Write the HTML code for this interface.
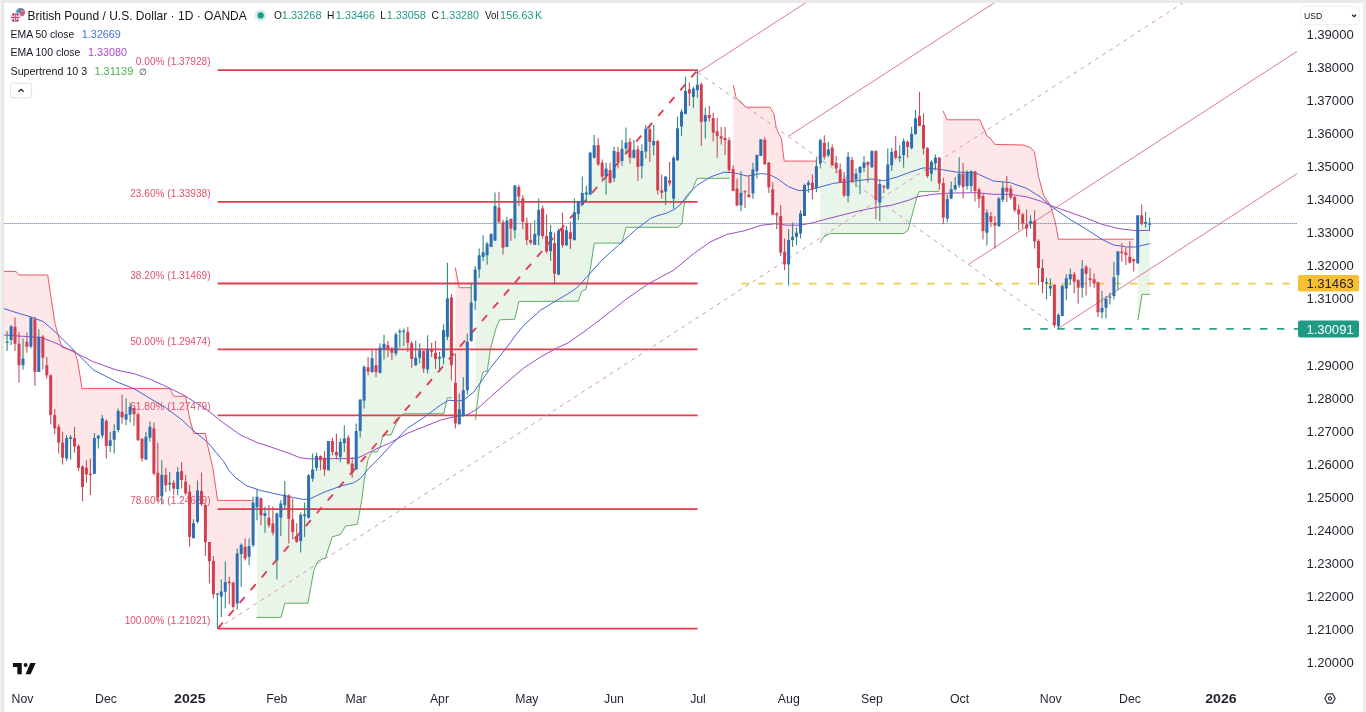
<!DOCTYPE html>
<html><head><meta charset="utf-8"><title>GBPUSD chart</title>
<style>
html,body{margin:0;padding:0;background:#fff;}
body{width:1366px;height:712px;overflow:hidden;position:relative;font-family:"Liberation Sans",sans-serif;color:#1e222d;}
#frame-top{position:absolute;left:0;top:0;width:1366px;height:3px;background:#e9e9e9;}
#frame-left{position:absolute;left:0;top:0;width:3.7px;height:712px;background:linear-gradient(90deg,#f6f6f6 0,#f6f6f6 1px,#e8e8e8 1.3px,#e8e8e8 100%);}
#frame-right{position:absolute;right:0;top:0;width:3px;height:712px;background:#ececec;}
svg{position:absolute;left:0;top:0;}
svg text{font-family:"Liberation Sans",sans-serif;}
</style></head><body>
<svg width="1366" height="712" viewBox="0 0 1366 712">
<polygon points="2.5,271.4 16.0,271.4 19.0,275.0 47.7,275.0 50.0,291.0 55.0,323.5 57.7,333.5 62.0,347.3 74.4,351.0 77.8,361.9 82.0,388.6 169.7,388.6 173.9,396.3 185.6,396.3 189.8,419.0 193.8,433.5 205.5,433.5 207.2,443.5 213.0,468.6 217.6,500.4 253.0,500.4 253.0,523.9 249.1,551.4 245.1,552.6 241.2,549.4 237.2,578.5 233.2,594.8 229.3,582.5 225.3,587.0 221.3,594.0 217.4,594.1 213.4,577.6 209.4,551.6 205.4,523.6 201.5,497.6 197.5,506.1 193.5,530.7 189.6,514.3 185.6,487.5 181.6,475.6 177.7,480.4 173.7,485.7 169.7,483.6 165.8,480.1 161.8,485.5 157.8,484.9 153.9,451.0 149.9,432.2 145.9,448.1 142.0,448.6 138.0,427.2 134.0,411.1 130.1,410.7 126.1,416.9 122.1,414.6 118.2,420.5 114.2,435.4 110.2,443.1 106.3,433.4 102.3,427.0 98.3,437.1 94.4,456.0 90.4,474.3 86.4,471.0 82.5,476.8 78.5,456.9 74.5,442.3 70.6,438.1 66.6,448.3 62.6,450.2 58.7,434.8 54.7,421.7 50.7,395.2 46.8,370.2 42.8,347.1 38.8,354.4 34.9,345.5 30.9,332.1 26.9,344.3 23.0,361.9 19.0,354.5 15.0,335.3 11.1,333.2 2.5,342.2" fill="rgba(242,54,69,0.12)" stroke="none"/>
<polyline points="2.5,271.4 16.0,271.4 19.0,275.0 47.7,275.0 50.0,291.0 55.0,323.5 57.7,333.5 62.0,347.3 74.4,351.0 77.8,361.9 82.0,388.6 169.7,388.6 173.9,396.3 185.6,396.3 189.8,419.0 193.8,433.5 205.5,433.5 207.2,443.5 213.0,468.6 217.6,500.4 253.0,500.4" fill="none" stroke="#e8505c" stroke-width="0.95" stroke-linejoin="round"/>
<polygon points="256.7,617.4 281.0,617.4 284.8,603.2 308.0,603.2 310.5,589.0 313.8,570.3 318.0,561.1 325.5,557.8 332.2,536.9 340.6,534.4 345.6,526.0 357.3,524.3 360.7,506.0 361.9,499.0 364.4,478.7 368.3,458.6 372.0,451.9 377.0,451.9 380.3,446.9 382.8,435.2 391.2,434.8 394.5,426.8 400.4,416.0 403.7,413.8 443.8,413.8 447.2,397.8 452.0,397.8 452.0,331.4 447.4,317.6 443.5,343.9 439.5,357.8 435.5,355.8 431.6,350.6 427.6,359.1 423.6,359.8 419.7,353.9 415.7,361.5 411.7,351.0 407.8,337.2 403.8,331.1 399.8,331.6 395.9,343.9 391.9,350.6 387.9,347.3 384.0,346.4 380.0,360.2 376.0,368.6 372.1,365.0 368.1,369.5 364.1,383.8 360.2,415.3 356.2,450.2 352.2,468.2 348.3,450.6 344.3,440.9 340.3,449.4 336.4,453.6 332.4,446.4 328.4,455.6 324.5,463.6 320.5,458.2 316.5,462.0 312.6,474.1 308.6,496.5 304.6,515.1 300.7,527.9 296.7,539.0 292.7,525.6 288.8,507.1 284.8,499.9 280.8,510.6 276.9,536.9 272.9,528.1 268.9,521.5 265.0,514.5 261.0,506.8 256.7,502.0" fill="rgba(76,175,80,0.125)" stroke="none"/>
<polyline points="256.7,617.4 281.0,617.4 284.8,603.2 308.0,603.2 310.5,589.0 313.8,570.3 318.0,561.1 325.5,557.8 332.2,536.9 340.6,534.4 345.6,526.0 357.3,524.3 360.7,506.0 361.9,499.0 364.4,478.7 368.3,458.6 372.0,451.9 377.0,451.9 380.3,446.9 382.8,435.2 391.2,434.8 394.5,426.8 400.4,416.0 403.7,413.8 443.8,413.8 447.2,397.8 452.0,397.8" fill="none" stroke="#56a95a" stroke-width="0.95" stroke-linejoin="round"/>
<polygon points="455.3,267.6 459.2,287.7 471.3,287.7 471.3,321.8 467.3,366.1 463.3,403.1 459.3,416.8 455.3,403.1" fill="rgba(242,54,69,0.12)" stroke="none"/>
<polyline points="455.3,267.6 459.2,287.7 471.3,287.7" fill="none" stroke="#e8505c" stroke-width="0.95" stroke-linejoin="round"/>
<polygon points="475.6,420.1 476.5,410.1 479.6,385.3 483.0,372.0 487.2,371.1 490.5,348.5 496.4,326.8 499.7,319.8 514.7,319.3 518.9,301.5 578.4,301.2 581.7,291.1 585.9,289.5 590.1,270.2 594.3,243.1 621.9,243.1 626.1,227.3 677.9,227.3 682.1,223.4 684.6,200.8 692.1,190.3 697.1,178.3 729.7,178.3 729.7,155.2 725.1,139.1 721.2,137.4 717.2,133.6 713.2,125.4 709.3,116.4 705.3,118.3 701.3,103.0 697.4,87.5 693.4,92.7 689.4,91.4 685.5,102.5 681.5,119.1 677.5,144.3 673.6,178.2 669.6,181.8 665.6,184.1 661.7,191.6 657.7,165.7 653.7,143.1 649.8,135.6 645.8,140.2 641.8,158.6 637.9,158.1 633.9,153.8 629.9,149.8 626.0,145.6 622.0,154.9 618.0,156.9 614.1,164.7 610.1,176.5 606.1,172.3 602.2,169.6 598.2,154.8 594.2,151.4 590.2,173.6 586.3,193.6 582.3,198.8 578.3,207.9 574.4,226.2 570.4,235.6 566.4,237.7 562.5,236.8 558.5,252.8 554.5,258.4 550.6,241.5 546.6,243.8 542.6,222.2 538.7,222.7 534.7,239.4 530.7,241.3 526.8,231.3 522.8,210.1 518.8,191.7 514.9,207.8 510.9,223.7 506.9,233.7 503.0,234.9 499.0,214.7 495.0,223.2 491.1,240.4 487.1,249.4 483.1,254.6 479.2,262.4 475.6,285.2" fill="rgba(76,175,80,0.125)" stroke="none"/>
<polyline points="475.6,420.1 476.5,410.1 479.6,385.3 483.0,372.0 487.2,371.1 490.5,348.5 496.4,326.8 499.7,319.8 514.7,319.3 518.9,301.5 578.4,301.2 581.7,291.1 585.9,289.5 590.1,270.2 594.3,243.1 621.9,243.1 626.1,227.3 677.9,227.3 682.1,223.4 684.6,200.8 692.1,190.3 697.1,178.3 729.7,178.3" fill="none" stroke="#56a95a" stroke-width="0.95" stroke-linejoin="round"/>
<polygon points="733.3,85.2 736.3,98.5 742.1,102.7 745.5,107.2 769.9,107.2 773.9,113.6 776.4,128.6 781.4,138.7 784.2,161.1 816.4,161.1 816.4,177.1 812.4,186.0 808.4,183.9 804.5,200.5 800.5,223.4 796.5,234.8 792.6,238.4 788.6,252.1 784.6,258.1 780.7,234.3 776.7,214.3 772.7,201.9 768.8,175.0 764.8,152.1 760.8,147.7 756.9,163.1 752.9,181.4 748.9,195.8 745.0,191.7 741.0,199.1 737.0,197.0 733.3,180.0" fill="rgba(242,54,69,0.12)" stroke="none"/>
<polyline points="733.3,85.2 736.3,98.5 742.1,102.7 745.5,107.2 769.9,107.2 773.9,113.6 776.4,128.6 781.4,138.7 784.2,161.1 816.4,161.1" fill="none" stroke="#e8505c" stroke-width="0.95" stroke-linejoin="round"/>
<polygon points="820.2,242.7 823.6,236.9 830.3,233.5 903.8,233.5 908.0,230.2 911.4,217.6 917.2,195.9 919.2,191.6 939.3,191.6 939.3,170.6 935.4,160.5 931.4,167.8 927.4,162.1 923.5,136.8 919.5,121.0 915.5,126.4 911.6,141.0 907.6,144.4 903.6,148.1 899.7,157.4 895.7,154.1 891.7,158.6 887.8,176.5 883.8,186.6 879.8,193.2 875.9,175.6 871.9,159.2 867.9,163.6 864.0,165.1 860.0,169.9 856.0,176.6 852.1,170.9 848.1,176.4 844.1,187.1 840.2,175.7 836.2,165.7 832.2,156.5 828.3,152.3 824.3,149.8 820.2,151.9" fill="rgba(76,175,80,0.125)" stroke="none"/>
<polyline points="820.2,242.7 823.6,236.9 830.3,233.5 903.8,233.5 908.0,230.2 911.4,217.6 917.2,195.9 919.2,191.6 939.3,191.6" fill="none" stroke="#56a95a" stroke-width="0.95" stroke-linejoin="round"/>
<polygon points="943.0,110.9 947.2,119.8 979.8,119.8 987.4,136.8 989.9,137.7 994.9,144.4 1023.5,145.0 1030.2,147.5 1034.4,151.7 1038.6,176.8 1043.6,195.2 1050.3,205.2 1055.3,221.9 1058.3,239.2 1133.9,239.2 1133.9,260.4 1129.8,259.7 1125.8,253.8 1121.8,252.4 1117.9,263.3 1113.9,286.6 1109.9,297.1 1106.0,303.4 1102.0,310.1 1098.0,297.2 1094.1,281.4 1090.1,279.2 1086.1,270.3 1082.2,278.2 1078.2,283.9 1074.2,278.1 1070.3,276.8 1066.3,283.4 1062.3,301.1 1058.4,320.5 1054.4,305.1 1050.4,287.2 1046.5,282.9 1042.5,275.1 1038.5,254.6 1034.6,231.2 1030.6,222.3 1026.6,226.5 1022.7,219.0 1018.7,211.9 1014.7,203.6 1010.8,193.1 1006.8,189.7 1002.8,193.7 998.9,212.3 994.9,224.2 990.9,219.0 986.9,222.8 983.0,213.6 979.0,194.0 975.0,181.2 971.1,178.7 967.1,179.2 963.1,180.2 959.2,179.4 955.2,187.2 951.2,193.9 947.3,208.8 943.0,200.3" fill="rgba(242,54,69,0.12)" stroke="none"/>
<polyline points="943.0,110.9 947.2,119.8 979.8,119.8 987.4,136.8 989.9,137.7 994.9,144.4 1023.5,145.0 1030.2,147.5 1034.4,151.7 1038.6,176.8 1043.6,195.2 1050.3,205.2 1055.3,221.9 1058.3,239.2 1133.9,239.2" fill="none" stroke="#e8505c" stroke-width="0.95" stroke-linejoin="round"/>
<polygon points="1137.9,320.3 1142.1,294.4 1149.8,294.4 1149.8,223.9 1145.6,222.8 1141.7,219.4 1137.9,239.3" fill="rgba(76,175,80,0.125)" stroke="none"/>
<polyline points="1137.9,320.3 1142.1,294.4 1149.8,294.4" fill="none" stroke="#56a95a" stroke-width="0.95" stroke-linejoin="round"/>
<line x1="217.6" x2="697.6" y1="70.1" y2="70.1" stroke="#e23c4f" stroke-width="1.8"/>
<text x="210.5" y="65.2" text-anchor="end" font-size="10.1" fill="#e0506c">0.00% (1.37928)</text>
<line x1="217.6" x2="697.6" y1="201.9" y2="201.9" stroke="#e23c4f" stroke-width="1.8"/>
<text x="210.5" y="197.0" text-anchor="end" font-size="10.1" fill="#e0506c">23.60% (1.33938)</text>
<line x1="217.6" x2="697.6" y1="283.5" y2="283.5" stroke="#e23c4f" stroke-width="1.8"/>
<text x="210.5" y="278.6" text-anchor="end" font-size="10.1" fill="#e0506c">38.20% (1.31469)</text>
<line x1="217.6" x2="697.6" y1="349.4" y2="349.4" stroke="#e23c4f" stroke-width="1.8"/>
<text x="210.5" y="344.5" text-anchor="end" font-size="10.1" fill="#e0506c">50.00% (1.29474)</text>
<line x1="217.6" x2="697.6" y1="415.3" y2="415.3" stroke="#e23c4f" stroke-width="1.8"/>
<text x="210.5" y="410.4" text-anchor="end" font-size="10.1" fill="#e0506c">61.80% (1.27479)</text>
<line x1="217.6" x2="697.6" y1="509.1" y2="509.1" stroke="#e23c4f" stroke-width="1.8"/>
<text x="210.5" y="504.2" text-anchor="end" font-size="10.1" fill="#e0506c">78.60% (1.24639)</text>
<line x1="217.6" x2="697.6" y1="628.6" y2="628.6" stroke="#e23c4f" stroke-width="1.8"/>
<text x="210.5" y="623.7" text-anchor="end" font-size="10.1" fill="#e0506c">100.00% (1.21021)</text>
<line x1="217.6" y1="628.6" x2="1187.4" y2="0.0" stroke="#cf9ba8" stroke-width="1" stroke-dasharray="4 4.5"/>
<line x1="698.0" y1="72.5" x2="809.9" y2="0.0" stroke="#d67c96" stroke-width="1"/>
<line x1="1058.5" y1="328.3" x2="1297.0" y2="173.7" stroke="#d67c96" stroke-width="1"/>
<line x1="788.1" y1="136.4" x2="998.6" y2="0.0" stroke="#d67c96" stroke-width="1"/>
<line x1="968.4" y1="264.4" x2="1297.0" y2="51.4" stroke="#d67c96" stroke-width="1"/>
<line x1="698.0" y1="72.5" x2="1058.5" y2="328.3" stroke="#cf9ba8" stroke-width="1" stroke-dasharray="4 4.5"/>
<line x1="217.6" y1="628.6" x2="697.6" y2="70.1" stroke="#e23c4f" stroke-width="1.9" stroke-dasharray="7.8 9.1"/>
<line x1="741.4" x2="1298" y1="283.6" y2="283.6" stroke="#f1cb45" stroke-width="1.8" stroke-dasharray="7.5 9.4"/>
<line x1="1023.4" x2="1298" y1="328.9" y2="328.9" stroke="#2aa191" stroke-width="1.8" stroke-dasharray="7.5 9.4"/>
<line x1="3.7" x2="1297.4" y1="223.5" y2="223.5" stroke="#53719c" stroke-width="1" stroke-dasharray="1 1"/>
<polyline points="4.0,335.0 41.8,337.6 58.5,344.3 75.3,352.7 93.6,361.9 117.0,370.2 133.8,373.6 150.5,379.4 167.2,387.0 184.0,395.3 207.2,410.0 224.0,423.4 240.7,435.1 257.4,442.7 268.0,446.0 290.0,453.6 300.0,457.8 310.0,458.9 340.2,458.6 356.9,458.3 365.3,454.4 377.0,448.6 390.3,442.7 407.0,433.5 423.8,426.8 440.5,420.1 453.9,416.8 465.6,415.5 474.0,410.9 477.1,409.0 490.5,397.0 507.2,382.0 524.0,367.8 540.7,356.9 557.4,347.7 568.0,343.0 585.0,331.0 601.0,319.0 626.9,298.7 648.6,283.6 673.7,270.2 693.8,253.5 710.5,241.8 727.2,234.3 743.9,230.9 760.7,225.4 775.1,223.7 786.8,225.2 800.2,225.2 813.5,222.6 825.3,219.3 842.0,215.1 858.7,210.9 875.4,207.6 892.1,205.1 908.9,200.1 917.2,196.7 933.9,194.2 950.7,193.0 976.7,192.7 993.4,194.3 1010.2,194.3 1026.9,196.9 1040.3,201.0 1052.0,206.0 1068.7,211.9 1085.4,217.8 1102.1,224.4 1118.9,228.6 1135.6,230.6 1149.8,230.3" fill="none" stroke="#9a4cc4" stroke-width="1" stroke-linejoin="round"/>
<polyline points="3.3,308.4 16.0,312.5 30.0,316.7 43.5,321.7 56.9,333.4 75.3,351.8 93.6,370.0 117.0,382.0 133.8,388.6 150.5,398.7 165.4,407.5 182.0,420.0 193.8,431.0 207.2,441.8 224.0,461.9 228.6,470.0 235.3,477.5 247.0,485.9 260.3,490.4 277.0,494.2 293.8,497.6 303.8,499.5 310.5,498.6 323.4,492.5 340.2,486.2 353.5,482.8 360.2,478.7 368.6,468.6 377.0,460.3 390.3,446.0 407.0,428.5 423.8,417.6 440.5,405.0 448.9,400.2 457.2,400.9 463.7,400.2 473.8,392.0 482.1,380.3 490.5,367.8 507.2,346.9 515.6,335.2 524.0,325.1 540.7,310.1 557.4,300.0 567.5,294.0 576.7,288.0 586.8,276.9 601.8,260.2 618.5,245.2 635.3,230.1 650.3,218.5 658.0,215.5 667.0,213.0 675.0,209.0 681.0,204.0 687.1,195.3 697.1,185.3 710.5,176.9 723.9,172.2 733.9,172.7 747.3,176.1 760.7,173.6 769.0,174.4 777.4,178.6 788.5,186.7 798.5,190.5 806.9,190.4 820.2,187.0 833.6,183.3 850.3,181.5 872.0,179.0 883.7,180.7 897.1,177.0 910.4,172.0 923.8,167.8 940.5,169.4 955.6,172.0 972.3,172.5 976.7,173.4 993.4,181.0 1010.2,182.6 1026.9,188.5 1040.3,196.9 1052.0,206.9 1068.7,218.6 1085.4,228.6 1102.1,239.5 1113.8,245.0 1127.2,247.0 1135.6,247.0 1149.8,243.6" fill="none" stroke="#4464d4" stroke-width="1" stroke-linejoin="round"/>
<line x1="7.1" x2="7.1" y1="331.0" y2="351.0" stroke="#2f8a82" stroke-width="1.1"/>
<rect x="5.6" y="341.5" width="3" height="1.5" fill="#2a8f88"/>
<line x1="11.1" x2="11.1" y1="325.0" y2="345.0" stroke="#2f8a82" stroke-width="1.1"/>
<rect x="9.6" y="326.4" width="3" height="13.7" fill="#2e6fb4"/>
<line x1="15.0" x2="15.0" y1="317.6" y2="351.0" stroke="#c4505c" stroke-width="1.1"/>
<rect x="13.5" y="326.8" width="3" height="17.0" fill="#d2404f"/>
<line x1="19.0" x2="19.0" y1="331.8" y2="382.8" stroke="#c4505c" stroke-width="1.1"/>
<rect x="17.5" y="343.8" width="3" height="21.4" fill="#d2404f"/>
<line x1="23.0" x2="23.0" y1="338.5" y2="369.4" stroke="#2f8a82" stroke-width="1.1"/>
<rect x="21.5" y="358.5" width="3" height="6.7" fill="#2e6fb4"/>
<line x1="26.9" x2="26.9" y1="332.6" y2="352.7" stroke="#c4505c" stroke-width="1.1"/>
<rect x="25.4" y="341.8" width="3" height="5.0" fill="#d2404f"/>
<line x1="30.9" x2="30.9" y1="316.7" y2="348.5" stroke="#2f8a82" stroke-width="1.1"/>
<rect x="29.4" y="317.6" width="3" height="28.9" fill="#2e6fb4"/>
<line x1="34.9" x2="34.9" y1="316.7" y2="386.1" stroke="#c4505c" stroke-width="1.1"/>
<rect x="33.4" y="319.2" width="3" height="52.7" fill="#d2404f"/>
<line x1="38.8" x2="38.8" y1="329.3" y2="371.9" stroke="#2f8a82" stroke-width="1.1"/>
<rect x="37.3" y="336.8" width="3" height="35.1" fill="#2e6fb4"/>
<line x1="42.8" x2="42.8" y1="335.0" y2="369.4" stroke="#c4505c" stroke-width="1.1"/>
<rect x="41.3" y="336.5" width="3" height="21.2" fill="#d2404f"/>
<line x1="46.8" x2="46.8" y1="356.9" y2="378.6" stroke="#c4505c" stroke-width="1.1"/>
<rect x="45.3" y="365.2" width="3" height="10.1" fill="#d2404f"/>
<line x1="50.7" x2="50.7" y1="374.5" y2="424.3" stroke="#c4505c" stroke-width="1.1"/>
<rect x="49.2" y="375.3" width="3" height="39.8" fill="#d2404f"/>
<line x1="54.7" x2="54.7" y1="409.2" y2="434.3" stroke="#c4505c" stroke-width="1.1"/>
<rect x="53.2" y="415.0" width="3" height="13.4" fill="#d2404f"/>
<line x1="58.7" x2="58.7" y1="424.3" y2="453.5" stroke="#c4505c" stroke-width="1.1"/>
<rect x="57.2" y="426.8" width="3" height="15.9" fill="#d2404f"/>
<line x1="62.6" x2="62.6" y1="431.8" y2="464.4" stroke="#c4505c" stroke-width="1.1"/>
<rect x="61.1" y="442.7" width="3" height="15.0" fill="#d2404f"/>
<line x1="66.6" x2="66.6" y1="435.1" y2="461.0" stroke="#2f8a82" stroke-width="1.1"/>
<rect x="65.1" y="438.1" width="3" height="20.4" fill="#2e6fb4"/>
<line x1="70.6" x2="70.6" y1="435.1" y2="459.4" stroke="#2f8a82" stroke-width="1.1"/>
<rect x="69.1" y="437.3" width="3" height="1.5" fill="#2e6fb4"/>
<line x1="74.5" x2="74.5" y1="426.8" y2="452.7" stroke="#c4505c" stroke-width="1.1"/>
<rect x="73.0" y="438.1" width="3" height="8.4" fill="#d2404f"/>
<line x1="78.5" x2="78.5" y1="444.3" y2="471.1" stroke="#c4505c" stroke-width="1.1"/>
<rect x="77.0" y="446.0" width="3" height="21.7" fill="#d2404f"/>
<line x1="82.5" x2="82.5" y1="465.2" y2="501.2" stroke="#c4505c" stroke-width="1.1"/>
<rect x="81.0" y="466.6" width="3" height="20.4" fill="#d2404f"/>
<line x1="86.4" x2="86.4" y1="460.2" y2="482.8" stroke="#c4505c" stroke-width="1.1"/>
<rect x="84.9" y="467.7" width="3" height="6.7" fill="#d2404f"/>
<line x1="90.4" x2="90.4" y1="458.5" y2="495.0" stroke="#c4505c" stroke-width="1.1"/>
<rect x="88.9" y="473.6" width="3" height="1.4" fill="#d2404f"/>
<line x1="94.4" x2="94.4" y1="433.1" y2="473.9" stroke="#2f8a82" stroke-width="1.1"/>
<rect x="92.9" y="438.1" width="3" height="35.8" fill="#2e6fb4"/>
<line x1="98.3" x2="98.3" y1="434.8" y2="448.5" stroke="#2f8a82" stroke-width="1.1"/>
<rect x="96.8" y="435.6" width="3" height="2.9" fill="#2e6fb4"/>
<line x1="102.3" x2="102.3" y1="415.0" y2="438.5" stroke="#2f8a82" stroke-width="1.1"/>
<rect x="100.8" y="418.4" width="3" height="17.2" fill="#2e6fb4"/>
<line x1="106.3" x2="106.3" y1="419.2" y2="458.5" stroke="#c4505c" stroke-width="1.1"/>
<rect x="104.8" y="420.9" width="3" height="25.1" fill="#d2404f"/>
<line x1="110.2" x2="110.2" y1="431.8" y2="451.9" stroke="#2f8a82" stroke-width="1.1"/>
<rect x="108.7" y="440.2" width="3" height="5.8" fill="#2e6fb4"/>
<line x1="114.2" x2="114.2" y1="424.3" y2="453.5" stroke="#2f8a82" stroke-width="1.1"/>
<rect x="112.7" y="431.0" width="3" height="8.8" fill="#2e6fb4"/>
<line x1="118.2" x2="118.2" y1="408.4" y2="432.6" stroke="#2f8a82" stroke-width="1.1"/>
<rect x="116.7" y="410.9" width="3" height="19.2" fill="#2e6fb4"/>
<line x1="122.1" x2="122.1" y1="394.5" y2="423.4" stroke="#c4505c" stroke-width="1.1"/>
<rect x="120.6" y="411.7" width="3" height="5.9" fill="#d2404f"/>
<line x1="126.1" x2="126.1" y1="398.3" y2="425.1" stroke="#2f8a82" stroke-width="1.1"/>
<rect x="124.6" y="414.2" width="3" height="5.5" fill="#2e6fb4"/>
<line x1="130.1" x2="130.1" y1="402.5" y2="422.6" stroke="#2f8a82" stroke-width="1.1"/>
<rect x="128.6" y="406.7" width="3" height="8.0" fill="#2e6fb4"/>
<line x1="134.0" x2="134.0" y1="407.5" y2="425.9" stroke="#c4505c" stroke-width="1.1"/>
<rect x="132.5" y="408.0" width="3" height="6.2" fill="#d2404f"/>
<line x1="138.0" x2="138.0" y1="412.6" y2="441.0" stroke="#c4505c" stroke-width="1.1"/>
<rect x="136.5" y="414.2" width="3" height="26.0" fill="#d2404f"/>
<line x1="142.0" x2="142.0" y1="438.1" y2="461.6" stroke="#c4505c" stroke-width="1.1"/>
<rect x="140.5" y="438.8" width="3" height="19.7" fill="#d2404f"/>
<line x1="145.9" x2="145.9" y1="432.1" y2="460.2" stroke="#2f8a82" stroke-width="1.1"/>
<rect x="144.4" y="436.8" width="3" height="22.6" fill="#2e6fb4"/>
<line x1="149.9" x2="149.9" y1="421.4" y2="441.8" stroke="#2f8a82" stroke-width="1.1"/>
<rect x="148.4" y="426.8" width="3" height="10.8" fill="#2e6fb4"/>
<line x1="153.9" x2="153.9" y1="422.6" y2="475.3" stroke="#c4505c" stroke-width="1.1"/>
<rect x="152.4" y="428.4" width="3" height="45.2" fill="#d2404f"/>
<line x1="157.8" x2="157.8" y1="442.7" y2="502.0" stroke="#c4505c" stroke-width="1.1"/>
<rect x="156.3" y="472.8" width="3" height="24.2" fill="#d2404f"/>
<line x1="161.8" x2="161.8" y1="460.2" y2="504.5" stroke="#2f8a82" stroke-width="1.1"/>
<rect x="160.3" y="474.9" width="3" height="21.3" fill="#2e6fb4"/>
<line x1="165.8" x2="165.8" y1="467.7" y2="492.0" stroke="#c4505c" stroke-width="1.1"/>
<rect x="164.3" y="474.9" width="3" height="10.4" fill="#d2404f"/>
<line x1="169.7" x2="169.7" y1="471.9" y2="491.2" stroke="#2f8a82" stroke-width="1.1"/>
<rect x="168.2" y="482.8" width="3" height="1.7" fill="#2e6fb4"/>
<line x1="173.7" x2="173.7" y1="480.3" y2="495.3" stroke="#c4505c" stroke-width="1.1"/>
<rect x="172.2" y="482.8" width="3" height="5.8" fill="#d2404f"/>
<line x1="177.7" x2="177.7" y1="466.9" y2="495.3" stroke="#2f8a82" stroke-width="1.1"/>
<rect x="176.2" y="471.9" width="3" height="17.1" fill="#2e6fb4"/>
<line x1="181.6" x2="181.6" y1="461.9" y2="488.6" stroke="#c4505c" stroke-width="1.1"/>
<rect x="180.1" y="471.1" width="3" height="8.9" fill="#d2404f"/>
<line x1="185.6" x2="185.6" y1="474.9" y2="495.3" stroke="#c4505c" stroke-width="1.1"/>
<rect x="184.1" y="481.6" width="3" height="11.7" fill="#d2404f"/>
<line x1="189.6" x2="189.6" y1="484.7" y2="546.5" stroke="#c4505c" stroke-width="1.1"/>
<rect x="188.1" y="491.7" width="3" height="45.2" fill="#d2404f"/>
<line x1="193.5" x2="193.5" y1="519.3" y2="538.2" stroke="#2f8a82" stroke-width="1.1"/>
<rect x="192.0" y="523.2" width="3" height="15.0" fill="#2e6fb4"/>
<line x1="197.5" x2="197.5" y1="480.4" y2="523.5" stroke="#2f8a82" stroke-width="1.1"/>
<rect x="196.0" y="490.4" width="3" height="31.4" fill="#2e6fb4"/>
<line x1="201.5" x2="201.5" y1="472.4" y2="506.5" stroke="#c4505c" stroke-width="1.1"/>
<rect x="200.0" y="490.9" width="3" height="13.4" fill="#d2404f"/>
<line x1="205.4" x2="205.4" y1="504.3" y2="556.0" stroke="#c4505c" stroke-width="1.1"/>
<rect x="203.9" y="505.0" width="3" height="37.2" fill="#d2404f"/>
<line x1="209.4" x2="209.4" y1="541.9" y2="583.6" stroke="#c4505c" stroke-width="1.1"/>
<rect x="207.9" y="542.0" width="3" height="19.3" fill="#d2404f"/>
<line x1="213.4" x2="213.4" y1="555.9" y2="598.5" stroke="#c4505c" stroke-width="1.1"/>
<rect x="211.9" y="560.9" width="3" height="33.4" fill="#d2404f"/>
<line x1="217.4" x2="217.4" y1="593.2" y2="628.6" stroke="#2f8a82" stroke-width="1.1"/>
<rect x="215.9" y="593.5" width="3" height="1.3" fill="#2a8f88"/>
<line x1="221.3" x2="221.3" y1="579.3" y2="616.9" stroke="#2f8a82" stroke-width="1.1"/>
<rect x="219.8" y="591.5" width="3" height="5.0" fill="#2e6fb4"/>
<line x1="225.3" x2="225.3" y1="561.4" y2="608.6" stroke="#2f8a82" stroke-width="1.1"/>
<rect x="223.8" y="582.1" width="3" height="9.7" fill="#2e6fb4"/>
<line x1="229.3" x2="229.3" y1="576.8" y2="604.4" stroke="#c4505c" stroke-width="1.1"/>
<rect x="227.8" y="581.8" width="3" height="1.3" fill="#d2404f"/>
<line x1="233.2" x2="233.2" y1="581.8" y2="608.6" stroke="#c4505c" stroke-width="1.1"/>
<rect x="231.7" y="582.6" width="3" height="24.3" fill="#d2404f"/>
<line x1="237.2" x2="237.2" y1="548.4" y2="609.4" stroke="#2f8a82" stroke-width="1.1"/>
<rect x="235.7" y="553.4" width="3" height="50.1" fill="#2e6fb4"/>
<line x1="241.2" x2="241.2" y1="543.3" y2="586.8" stroke="#2f8a82" stroke-width="1.1"/>
<rect x="239.7" y="544.8" width="3" height="9.2" fill="#2e6fb4"/>
<line x1="245.1" x2="245.1" y1="538.6" y2="560.6" stroke="#c4505c" stroke-width="1.1"/>
<rect x="243.6" y="546.8" width="3" height="11.7" fill="#d2404f"/>
<line x1="249.1" x2="249.1" y1="538.6" y2="565.2" stroke="#2f8a82" stroke-width="1.1"/>
<rect x="247.6" y="546.0" width="3" height="10.8" fill="#2e6fb4"/>
<line x1="253.1" x2="253.1" y1="496.8" y2="547.0" stroke="#2f8a82" stroke-width="1.1"/>
<rect x="251.6" y="502.6" width="3" height="42.6" fill="#2e6fb4"/>
<line x1="257.0" x2="257.0" y1="489.2" y2="520.2" stroke="#2f8a82" stroke-width="1.1"/>
<rect x="255.5" y="496.8" width="3" height="10.3" fill="#2e6fb4"/>
<line x1="261.0" x2="261.0" y1="497.6" y2="525.2" stroke="#c4505c" stroke-width="1.1"/>
<rect x="259.5" y="498.4" width="3" height="16.8" fill="#d2404f"/>
<line x1="265.0" x2="265.0" y1="506.8" y2="532.7" stroke="#2f8a82" stroke-width="1.1"/>
<rect x="263.5" y="513.1" width="3" height="2.9" fill="#2e6fb4"/>
<line x1="268.9" x2="268.9" y1="505.0" y2="527.7" stroke="#c4505c" stroke-width="1.1"/>
<rect x="267.4" y="517.7" width="3" height="7.5" fill="#d2404f"/>
<line x1="272.9" x2="272.9" y1="506.8" y2="535.2" stroke="#c4505c" stroke-width="1.1"/>
<rect x="271.4" y="523.5" width="3" height="9.2" fill="#d2404f"/>
<line x1="276.9" x2="276.9" y1="512.6" y2="579.4" stroke="#2f8a82" stroke-width="1.1"/>
<rect x="275.4" y="513.5" width="3" height="46.7" fill="#2e6fb4"/>
<line x1="280.8" x2="280.8" y1="500.0" y2="536.0" stroke="#2f8a82" stroke-width="1.1"/>
<rect x="279.3" y="503.4" width="3" height="14.3" fill="#2e6fb4"/>
<line x1="284.8" x2="284.8" y1="480.9" y2="509.3" stroke="#2f8a82" stroke-width="1.1"/>
<rect x="283.3" y="494.7" width="3" height="10.4" fill="#2e6fb4"/>
<line x1="288.8" x2="288.8" y1="494.2" y2="543.6" stroke="#c4505c" stroke-width="1.1"/>
<rect x="287.3" y="495.4" width="3" height="23.4" fill="#d2404f"/>
<line x1="292.7" x2="292.7" y1="498.4" y2="539.4" stroke="#c4505c" stroke-width="1.1"/>
<rect x="291.2" y="519.3" width="3" height="12.6" fill="#d2404f"/>
<line x1="296.7" x2="296.7" y1="523.2" y2="542.7" stroke="#c4505c" stroke-width="1.1"/>
<rect x="295.2" y="536.0" width="3" height="5.9" fill="#d2404f"/>
<line x1="300.7" x2="300.7" y1="512.6" y2="552.4" stroke="#2f8a82" stroke-width="1.1"/>
<rect x="299.2" y="514.8" width="3" height="26.2" fill="#2e6fb4"/>
<line x1="304.6" x2="304.6" y1="502.6" y2="536.9" stroke="#2f8a82" stroke-width="1.1"/>
<rect x="303.1" y="514.3" width="3" height="1.7" fill="#2e6fb4"/>
<line x1="308.6" x2="308.6" y1="474.2" y2="518.5" stroke="#2f8a82" stroke-width="1.1"/>
<rect x="307.1" y="475.2" width="3" height="42.5" fill="#2e6fb4"/>
<line x1="312.6" x2="312.6" y1="453.6" y2="481.4" stroke="#2f8a82" stroke-width="1.1"/>
<rect x="311.1" y="469.5" width="3" height="9.1" fill="#2e6fb4"/>
<line x1="316.5" x2="316.5" y1="452.7" y2="471.1" stroke="#2f8a82" stroke-width="1.1"/>
<rect x="315.0" y="456.1" width="3" height="11.7" fill="#2e6fb4"/>
<line x1="320.5" x2="320.5" y1="455.3" y2="470.3" stroke="#c4505c" stroke-width="1.1"/>
<rect x="319.0" y="456.1" width="3" height="4.2" fill="#d2404f"/>
<line x1="324.5" x2="324.5" y1="451.1" y2="476.1" stroke="#c4505c" stroke-width="1.1"/>
<rect x="323.0" y="457.8" width="3" height="11.7" fill="#d2404f"/>
<line x1="328.4" x2="328.4" y1="441.0" y2="470.3" stroke="#2f8a82" stroke-width="1.1"/>
<rect x="326.9" y="441.0" width="3" height="29.3" fill="#2e6fb4"/>
<line x1="332.4" x2="332.4" y1="437.7" y2="455.3" stroke="#c4505c" stroke-width="1.1"/>
<rect x="330.9" y="441.0" width="3" height="10.9" fill="#d2404f"/>
<line x1="336.4" x2="336.4" y1="433.5" y2="459.4" stroke="#c4505c" stroke-width="1.1"/>
<rect x="334.9" y="451.9" width="3" height="3.4" fill="#d2404f"/>
<line x1="340.3" x2="340.3" y1="438.5" y2="461.9" stroke="#2f8a82" stroke-width="1.1"/>
<rect x="338.8" y="441.9" width="3" height="15.0" fill="#2e6fb4"/>
<line x1="344.3" x2="344.3" y1="425.2" y2="451.9" stroke="#2f8a82" stroke-width="1.1"/>
<rect x="342.8" y="438.5" width="3" height="4.7" fill="#2e6fb4"/>
<line x1="348.3" x2="348.3" y1="435.2" y2="464.4" stroke="#c4505c" stroke-width="1.1"/>
<rect x="346.8" y="437.7" width="3" height="25.9" fill="#d2404f"/>
<line x1="352.2" x2="352.2" y1="456.9" y2="477.8" stroke="#c4505c" stroke-width="1.1"/>
<rect x="350.7" y="463.6" width="3" height="9.2" fill="#d2404f"/>
<line x1="356.2" x2="356.2" y1="423.5" y2="469.5" stroke="#2f8a82" stroke-width="1.1"/>
<rect x="354.7" y="431.0" width="3" height="38.5" fill="#2e6fb4"/>
<line x1="360.2" x2="360.2" y1="399.2" y2="437.7" stroke="#2f8a82" stroke-width="1.1"/>
<rect x="358.7" y="399.6" width="3" height="31.4" fill="#2e6fb4"/>
<line x1="364.1" x2="364.1" y1="365.3" y2="408.4" stroke="#2f8a82" stroke-width="1.1"/>
<rect x="362.6" y="366.9" width="3" height="33.7" fill="#2e6fb4"/>
<line x1="368.1" x2="368.1" y1="356.9" y2="375.3" stroke="#c4505c" stroke-width="1.1"/>
<rect x="366.6" y="367.3" width="3" height="4.3" fill="#d2404f"/>
<line x1="372.1" x2="372.1" y1="350.2" y2="372.8" stroke="#2f8a82" stroke-width="1.1"/>
<rect x="370.6" y="358.2" width="3" height="13.7" fill="#2e6fb4"/>
<line x1="376.0" x2="376.0" y1="350.2" y2="377.0" stroke="#c4505c" stroke-width="1.1"/>
<rect x="374.5" y="365.3" width="3" height="6.6" fill="#d2404f"/>
<line x1="380.0" x2="380.0" y1="343.2" y2="373.6" stroke="#2f8a82" stroke-width="1.1"/>
<rect x="378.5" y="347.7" width="3" height="25.1" fill="#2e6fb4"/>
<line x1="384.0" x2="384.0" y1="334.8" y2="359.4" stroke="#2f8a82" stroke-width="1.1"/>
<rect x="382.5" y="343.8" width="3" height="5.1" fill="#2e6fb4"/>
<line x1="387.9" x2="387.9" y1="341.0" y2="356.9" stroke="#c4505c" stroke-width="1.1"/>
<rect x="386.4" y="345.2" width="3" height="4.2" fill="#d2404f"/>
<line x1="391.9" x2="391.9" y1="346.9" y2="360.2" stroke="#c4505c" stroke-width="1.1"/>
<rect x="390.4" y="348.5" width="3" height="4.2" fill="#d2404f"/>
<line x1="395.9" x2="395.9" y1="332.6" y2="356.0" stroke="#2f8a82" stroke-width="1.1"/>
<rect x="394.4" y="334.3" width="3" height="19.2" fill="#2e6fb4"/>
<line x1="399.8" x2="399.8" y1="328.8" y2="347.7" stroke="#2f8a82" stroke-width="1.1"/>
<rect x="398.3" y="331.0" width="3" height="1.2" fill="#2e6fb4"/>
<line x1="403.8" x2="403.8" y1="328.5" y2="346.0" stroke="#2f8a82" stroke-width="1.1"/>
<rect x="402.3" y="330.6" width="3" height="1.2" fill="#2e6fb4"/>
<line x1="407.8" x2="407.8" y1="327.1" y2="351.9" stroke="#c4505c" stroke-width="1.1"/>
<rect x="406.3" y="331.8" width="3" height="10.9" fill="#d2404f"/>
<line x1="411.7" x2="411.7" y1="341.0" y2="367.8" stroke="#c4505c" stroke-width="1.1"/>
<rect x="410.2" y="343.2" width="3" height="15.7" fill="#d2404f"/>
<line x1="415.7" x2="415.7" y1="340.5" y2="366.1" stroke="#2f8a82" stroke-width="1.1"/>
<rect x="414.2" y="357.7" width="3" height="7.6" fill="#2e6fb4"/>
<line x1="419.7" x2="419.7" y1="343.2" y2="363.6" stroke="#2f8a82" stroke-width="1.1"/>
<rect x="418.2" y="350.2" width="3" height="7.5" fill="#2e6fb4"/>
<line x1="423.6" x2="423.6" y1="350.2" y2="372.8" stroke="#c4505c" stroke-width="1.1"/>
<rect x="422.1" y="351.0" width="3" height="17.6" fill="#d2404f"/>
<line x1="427.6" x2="427.6" y1="335.2" y2="373.6" stroke="#2f8a82" stroke-width="1.1"/>
<rect x="426.1" y="348.9" width="3" height="20.5" fill="#2e6fb4"/>
<line x1="431.6" x2="431.6" y1="342.7" y2="356.9" stroke="#c4505c" stroke-width="1.1"/>
<rect x="430.1" y="349.4" width="3" height="2.5" fill="#d2404f"/>
<line x1="435.5" x2="435.5" y1="341.0" y2="368.9" stroke="#c4505c" stroke-width="1.1"/>
<rect x="434.0" y="352.7" width="3" height="6.2" fill="#d2404f"/>
<line x1="439.5" x2="439.5" y1="351.9" y2="370.3" stroke="#2f8a82" stroke-width="1.1"/>
<rect x="438.0" y="356.9" width="3" height="1.7" fill="#2e6fb4"/>
<line x1="443.5" x2="443.5" y1="324.3" y2="364.4" stroke="#2f8a82" stroke-width="1.1"/>
<rect x="442.0" y="330.1" width="3" height="27.6" fill="#2e6fb4"/>
<line x1="447.4" x2="447.4" y1="262.8" y2="340.2" stroke="#2f8a82" stroke-width="1.1"/>
<rect x="445.9" y="298.4" width="3" height="38.4" fill="#2e6fb4"/>
<line x1="451.4" x2="451.4" y1="294.2" y2="380.3" stroke="#c4505c" stroke-width="1.1"/>
<rect x="449.9" y="297.5" width="3" height="67.8" fill="#d2404f"/>
<line x1="455.4" x2="455.4" y1="353.5" y2="428.5" stroke="#c4505c" stroke-width="1.1"/>
<rect x="453.9" y="382.7" width="3" height="40.8" fill="#d2404f"/>
<line x1="459.3" x2="459.3" y1="393.5" y2="424.3" stroke="#2f8a82" stroke-width="1.1"/>
<rect x="457.8" y="409.3" width="3" height="15.0" fill="#2e6fb4"/>
<line x1="463.3" x2="463.3" y1="377.0" y2="416.8" stroke="#2f8a82" stroke-width="1.1"/>
<rect x="461.8" y="390.2" width="3" height="25.8" fill="#2e6fb4"/>
<line x1="467.3" x2="467.3" y1="333.5" y2="394.4" stroke="#2f8a82" stroke-width="1.1"/>
<rect x="465.8" y="341.8" width="3" height="48.5" fill="#2e6fb4"/>
<line x1="471.2" x2="471.2" y1="283.6" y2="341.8" stroke="#2f8a82" stroke-width="1.1"/>
<rect x="469.7" y="302.5" width="3" height="38.5" fill="#2e6fb4"/>
<line x1="475.2" x2="475.2" y1="266.1" y2="310.0" stroke="#2f8a82" stroke-width="1.1"/>
<rect x="473.7" y="269.5" width="3" height="31.4" fill="#2e6fb4"/>
<line x1="479.2" x2="479.2" y1="248.6" y2="277.8" stroke="#2f8a82" stroke-width="1.1"/>
<rect x="477.7" y="255.3" width="3" height="14.2" fill="#2e6fb4"/>
<line x1="483.1" x2="483.1" y1="235.2" y2="261.1" stroke="#2f8a82" stroke-width="1.1"/>
<rect x="481.6" y="252.3" width="3" height="4.6" fill="#2e6fb4"/>
<line x1="487.1" x2="487.1" y1="241.9" y2="264.5" stroke="#2f8a82" stroke-width="1.1"/>
<rect x="485.6" y="243.6" width="3" height="11.7" fill="#2e6fb4"/>
<line x1="491.1" x2="491.1" y1="233.5" y2="246.9" stroke="#2f8a82" stroke-width="1.1"/>
<rect x="489.6" y="233.9" width="3" height="13.0" fill="#2e6fb4"/>
<line x1="495.0" x2="495.0" y1="192.6" y2="241.0" stroke="#2f8a82" stroke-width="1.1"/>
<rect x="493.5" y="205.9" width="3" height="34.7" fill="#2e6fb4"/>
<line x1="499.0" x2="499.0" y1="191.7" y2="223.5" stroke="#c4505c" stroke-width="1.1"/>
<rect x="497.5" y="207.6" width="3" height="14.2" fill="#d2404f"/>
<line x1="503.0" x2="503.0" y1="219.8" y2="254.4" stroke="#c4505c" stroke-width="1.1"/>
<rect x="501.5" y="222.2" width="3" height="25.5" fill="#d2404f"/>
<line x1="506.9" x2="506.9" y1="216.8" y2="246.9" stroke="#2f8a82" stroke-width="1.1"/>
<rect x="505.4" y="220.5" width="3" height="26.4" fill="#2e6fb4"/>
<line x1="510.9" x2="510.9" y1="218.8" y2="241.0" stroke="#c4505c" stroke-width="1.1"/>
<rect x="509.4" y="218.8" width="3" height="9.7" fill="#d2404f"/>
<line x1="514.9" x2="514.9" y1="185.4" y2="238.5" stroke="#2f8a82" stroke-width="1.1"/>
<rect x="513.4" y="185.4" width="3" height="44.8" fill="#2e6fb4"/>
<line x1="518.8" x2="518.8" y1="185.0" y2="205.9" stroke="#c4505c" stroke-width="1.1"/>
<rect x="517.3" y="187.0" width="3" height="9.4" fill="#d2404f"/>
<line x1="522.8" x2="522.8" y1="195.1" y2="229.3" stroke="#c4505c" stroke-width="1.1"/>
<rect x="521.3" y="198.4" width="3" height="23.4" fill="#d2404f"/>
<line x1="526.8" x2="526.8" y1="217.6" y2="245.2" stroke="#c4505c" stroke-width="1.1"/>
<rect x="525.3" y="222.7" width="3" height="17.2" fill="#d2404f"/>
<line x1="530.7" x2="530.7" y1="222.7" y2="244.4" stroke="#c4505c" stroke-width="1.1"/>
<rect x="529.2" y="239.9" width="3" height="2.8" fill="#d2404f"/>
<line x1="534.7" x2="534.7" y1="220.2" y2="244.9" stroke="#2f8a82" stroke-width="1.1"/>
<rect x="533.2" y="233.9" width="3" height="11.0" fill="#2e6fb4"/>
<line x1="538.7" x2="538.7" y1="198.4" y2="245.2" stroke="#2f8a82" stroke-width="1.1"/>
<rect x="537.2" y="209.8" width="3" height="25.7" fill="#2e6fb4"/>
<line x1="542.6" x2="542.6" y1="205.4" y2="238.5" stroke="#c4505c" stroke-width="1.1"/>
<rect x="541.1" y="208.4" width="3" height="27.6" fill="#d2404f"/>
<line x1="546.6" x2="546.6" y1="214.3" y2="253.6" stroke="#c4505c" stroke-width="1.1"/>
<rect x="545.1" y="236.0" width="3" height="15.6" fill="#d2404f"/>
<line x1="550.6" x2="550.6" y1="225.2" y2="261.1" stroke="#2f8a82" stroke-width="1.1"/>
<rect x="549.1" y="231.9" width="3" height="19.2" fill="#2e6fb4"/>
<line x1="554.5" x2="554.5" y1="232.7" y2="284.5" stroke="#c4505c" stroke-width="1.1"/>
<rect x="553.0" y="243.2" width="3" height="30.5" fill="#d2404f"/>
<line x1="558.5" x2="558.5" y1="228.5" y2="275.3" stroke="#2f8a82" stroke-width="1.1"/>
<rect x="557.0" y="231.0" width="3" height="43.5" fill="#2e6fb4"/>
<line x1="562.5" x2="562.5" y1="212.6" y2="247.7" stroke="#c4505c" stroke-width="1.1"/>
<rect x="561.0" y="228.5" width="3" height="16.7" fill="#d2404f"/>
<line x1="566.4" x2="566.4" y1="226.0" y2="246.1" stroke="#2f8a82" stroke-width="1.1"/>
<rect x="564.9" y="230.2" width="3" height="15.0" fill="#2e6fb4"/>
<line x1="570.4" x2="570.4" y1="221.8" y2="248.9" stroke="#c4505c" stroke-width="1.1"/>
<rect x="568.9" y="232.2" width="3" height="6.7" fill="#d2404f"/>
<line x1="574.4" x2="574.4" y1="198.5" y2="240.2" stroke="#2f8a82" stroke-width="1.1"/>
<rect x="572.9" y="212.2" width="3" height="28.0" fill="#2e6fb4"/>
<line x1="578.3" x2="578.3" y1="201.0" y2="220.2" stroke="#2f8a82" stroke-width="1.1"/>
<rect x="576.8" y="201.8" width="3" height="12.2" fill="#2e6fb4"/>
<line x1="582.3" x2="582.3" y1="176.4" y2="205.3" stroke="#2f8a82" stroke-width="1.1"/>
<rect x="580.8" y="193.0" width="3" height="11.6" fill="#2e6fb4"/>
<line x1="586.3" x2="586.3" y1="186.0" y2="202.3" stroke="#2f8a82" stroke-width="1.1"/>
<rect x="584.8" y="192.5" width="3" height="2.1" fill="#2e6fb4"/>
<line x1="590.2" x2="590.2" y1="151.8" y2="195.3" stroke="#2f8a82" stroke-width="1.1"/>
<rect x="588.7" y="152.7" width="3" height="41.7" fill="#2e6fb4"/>
<line x1="594.2" x2="594.2" y1="135.1" y2="158.5" stroke="#2f8a82" stroke-width="1.1"/>
<rect x="592.7" y="145.2" width="3" height="12.5" fill="#2e6fb4"/>
<line x1="598.2" x2="598.2" y1="138.1" y2="166.1" stroke="#c4505c" stroke-width="1.1"/>
<rect x="596.7" y="145.2" width="3" height="19.2" fill="#d2404f"/>
<line x1="602.2" x2="602.2" y1="159.4" y2="181.9" stroke="#c4505c" stroke-width="1.1"/>
<rect x="600.7" y="162.7" width="3" height="13.9" fill="#d2404f"/>
<line x1="606.1" x2="606.1" y1="162.7" y2="194.5" stroke="#2f8a82" stroke-width="1.1"/>
<rect x="604.6" y="168.6" width="3" height="7.5" fill="#2e6fb4"/>
<line x1="610.1" x2="610.1" y1="162.7" y2="183.6" stroke="#c4505c" stroke-width="1.1"/>
<rect x="608.6" y="170.2" width="3" height="12.6" fill="#d2404f"/>
<line x1="614.1" x2="614.1" y1="146.8" y2="181.9" stroke="#2f8a82" stroke-width="1.1"/>
<rect x="612.6" y="151.0" width="3" height="27.3" fill="#2e6fb4"/>
<line x1="618.0" x2="618.0" y1="146.8" y2="168.6" stroke="#c4505c" stroke-width="1.1"/>
<rect x="616.5" y="151.8" width="3" height="10.1" fill="#d2404f"/>
<line x1="622.0" x2="622.0" y1="140.1" y2="166.1" stroke="#2f8a82" stroke-width="1.1"/>
<rect x="620.5" y="148.8" width="3" height="12.2" fill="#2e6fb4"/>
<line x1="626.0" x2="626.0" y1="127.6" y2="153.5" stroke="#2f8a82" stroke-width="1.1"/>
<rect x="624.5" y="142.6" width="3" height="5.9" fill="#2e6fb4"/>
<line x1="629.9" x2="629.9" y1="138.1" y2="163.5" stroke="#c4505c" stroke-width="1.1"/>
<rect x="628.4" y="141.8" width="3" height="15.9" fill="#d2404f"/>
<line x1="633.9" x2="633.9" y1="140.1" y2="158.5" stroke="#2f8a82" stroke-width="1.1"/>
<rect x="632.4" y="149.8" width="3" height="7.9" fill="#2e6fb4"/>
<line x1="637.9" x2="637.9" y1="145.2" y2="181.1" stroke="#c4505c" stroke-width="1.1"/>
<rect x="636.4" y="149.3" width="3" height="17.6" fill="#d2404f"/>
<line x1="641.8" x2="641.8" y1="144.3" y2="178.6" stroke="#2f8a82" stroke-width="1.1"/>
<rect x="640.3" y="151.0" width="3" height="15.1" fill="#2e6fb4"/>
<line x1="645.8" x2="645.8" y1="125.1" y2="158.5" stroke="#2f8a82" stroke-width="1.1"/>
<rect x="644.3" y="128.8" width="3" height="22.7" fill="#2e6fb4"/>
<line x1="649.8" x2="649.8" y1="124.2" y2="161.9" stroke="#c4505c" stroke-width="1.1"/>
<rect x="648.3" y="129.3" width="3" height="12.5" fill="#d2404f"/>
<line x1="653.7" x2="653.7" y1="125.1" y2="155.2" stroke="#2f8a82" stroke-width="1.1"/>
<rect x="652.2" y="141.0" width="3" height="4.2" fill="#2e6fb4"/>
<line x1="657.7" x2="657.7" y1="140.1" y2="194.5" stroke="#c4505c" stroke-width="1.1"/>
<rect x="656.2" y="141.0" width="3" height="49.3" fill="#d2404f"/>
<line x1="661.7" x2="661.7" y1="174.4" y2="198.7" stroke="#c4505c" stroke-width="1.1"/>
<rect x="660.2" y="190.3" width="3" height="2.5" fill="#d2404f"/>
<line x1="665.6" x2="665.6" y1="176.1" y2="205.0" stroke="#2f8a82" stroke-width="1.1"/>
<rect x="664.1" y="176.6" width="3" height="15.0" fill="#2e6fb4"/>
<line x1="669.6" x2="669.6" y1="161.9" y2="186.1" stroke="#c4505c" stroke-width="1.1"/>
<rect x="668.1" y="180.3" width="3" height="3.0" fill="#d2404f"/>
<line x1="673.6" x2="673.6" y1="156.0" y2="208.7" stroke="#2f8a82" stroke-width="1.1"/>
<rect x="672.1" y="157.7" width="3" height="41.0" fill="#2e6fb4"/>
<line x1="677.5" x2="677.5" y1="116.7" y2="161.0" stroke="#2f8a82" stroke-width="1.1"/>
<rect x="676.0" y="128.4" width="3" height="31.8" fill="#2e6fb4"/>
<line x1="681.5" x2="681.5" y1="109.2" y2="136.0" stroke="#2f8a82" stroke-width="1.1"/>
<rect x="680.0" y="111.7" width="3" height="14.7" fill="#2e6fb4"/>
<line x1="685.5" x2="685.5" y1="76.8" y2="114.5" stroke="#2f8a82" stroke-width="1.1"/>
<rect x="684.0" y="91.0" width="3" height="22.9" fill="#2e6fb4"/>
<line x1="689.4" x2="689.4" y1="82.6" y2="106.0" stroke="#c4505c" stroke-width="1.1"/>
<rect x="687.9" y="89.3" width="3" height="4.2" fill="#d2404f"/>
<line x1="693.4" x2="693.4" y1="86.8" y2="107.7" stroke="#2f8a82" stroke-width="1.1"/>
<rect x="691.9" y="88.5" width="3" height="8.4" fill="#2e6fb4"/>
<line x1="697.4" x2="697.4" y1="70.1" y2="97.7" stroke="#2f8a82" stroke-width="1.1"/>
<rect x="695.9" y="84.8" width="3" height="5.4" fill="#2e6fb4"/>
<line x1="701.3" x2="701.3" y1="82.6" y2="146.1" stroke="#c4505c" stroke-width="1.1"/>
<rect x="699.8" y="84.3" width="3" height="37.5" fill="#d2404f"/>
<line x1="705.3" x2="705.3" y1="107.5" y2="138.6" stroke="#2f8a82" stroke-width="1.1"/>
<rect x="703.8" y="115.1" width="3" height="6.5" fill="#2e6fb4"/>
<line x1="709.3" x2="709.3" y1="105.9" y2="121.8" stroke="#c4505c" stroke-width="1.1"/>
<rect x="707.8" y="114.8" width="3" height="3.2" fill="#d2404f"/>
<line x1="713.2" x2="713.2" y1="113.0" y2="141.5" stroke="#c4505c" stroke-width="1.1"/>
<rect x="711.7" y="118.1" width="3" height="14.6" fill="#d2404f"/>
<line x1="717.2" x2="717.2" y1="117.7" y2="157.7" stroke="#c4505c" stroke-width="1.1"/>
<rect x="715.7" y="131.2" width="3" height="4.9" fill="#d2404f"/>
<line x1="721.2" x2="721.2" y1="126.9" y2="144.4" stroke="#c4505c" stroke-width="1.1"/>
<rect x="719.7" y="136.3" width="3" height="2.3" fill="#d2404f"/>
<line x1="725.1" x2="725.1" y1="126.9" y2="155.3" stroke="#c4505c" stroke-width="1.1"/>
<rect x="723.6" y="138.0" width="3" height="2.2" fill="#d2404f"/>
<line x1="729.1" x2="729.1" y1="137.6" y2="172.7" stroke="#c4505c" stroke-width="1.1"/>
<rect x="727.6" y="140.2" width="3" height="30.0" fill="#d2404f"/>
<line x1="733.1" x2="733.1" y1="165.2" y2="191.1" stroke="#c4505c" stroke-width="1.1"/>
<rect x="731.6" y="168.9" width="3" height="22.2" fill="#d2404f"/>
<line x1="737.0" x2="737.0" y1="178.6" y2="206.2" stroke="#c4505c" stroke-width="1.1"/>
<rect x="735.5" y="188.6" width="3" height="16.8" fill="#d2404f"/>
<line x1="741.0" x2="741.0" y1="171.1" y2="211.2" stroke="#2f8a82" stroke-width="1.1"/>
<rect x="739.5" y="192.8" width="3" height="12.6" fill="#2e6fb4"/>
<line x1="745.0" x2="745.0" y1="190.3" y2="207.9" stroke="#c4505c" stroke-width="1.1"/>
<rect x="743.5" y="191.1" width="3" height="1.2" fill="#d2404f"/>
<line x1="748.9" x2="748.9" y1="175.3" y2="197.8" stroke="#c4505c" stroke-width="1.1"/>
<rect x="747.4" y="194.5" width="3" height="2.5" fill="#d2404f"/>
<line x1="752.9" x2="752.9" y1="162.7" y2="198.7" stroke="#2f8a82" stroke-width="1.1"/>
<rect x="751.4" y="169.4" width="3" height="24.0" fill="#2e6fb4"/>
<line x1="756.9" x2="756.9" y1="154.3" y2="178.6" stroke="#2f8a82" stroke-width="1.1"/>
<rect x="755.4" y="155.2" width="3" height="15.9" fill="#2e6fb4"/>
<line x1="760.8" x2="760.8" y1="139.3" y2="156.0" stroke="#2f8a82" stroke-width="1.1"/>
<rect x="759.3" y="139.3" width="3" height="16.7" fill="#2e6fb4"/>
<line x1="764.8" x2="764.8" y1="137.6" y2="164.4" stroke="#c4505c" stroke-width="1.1"/>
<rect x="763.3" y="139.8" width="3" height="24.6" fill="#d2404f"/>
<line x1="768.8" x2="768.8" y1="161.9" y2="193.0" stroke="#c4505c" stroke-width="1.1"/>
<rect x="767.3" y="162.7" width="3" height="24.6" fill="#d2404f"/>
<line x1="772.7" x2="772.7" y1="182.3" y2="215.2" stroke="#c4505c" stroke-width="1.1"/>
<rect x="771.2" y="189.3" width="3" height="25.3" fill="#d2404f"/>
<line x1="776.7" x2="776.7" y1="212.3" y2="229.3" stroke="#c4505c" stroke-width="1.1"/>
<rect x="775.2" y="213.5" width="3" height="1.7" fill="#d2404f"/>
<line x1="780.7" x2="780.7" y1="205.1" y2="256.1" stroke="#c4505c" stroke-width="1.1"/>
<rect x="779.2" y="216.0" width="3" height="36.7" fill="#d2404f"/>
<line x1="784.6" x2="784.6" y1="238.5" y2="270.3" stroke="#c4505c" stroke-width="1.1"/>
<rect x="783.1" y="251.9" width="3" height="12.5" fill="#d2404f"/>
<line x1="788.6" x2="788.6" y1="229.3" y2="285.4" stroke="#2f8a82" stroke-width="1.1"/>
<rect x="787.1" y="239.9" width="3" height="24.5" fill="#2e6fb4"/>
<line x1="792.6" x2="792.6" y1="222.6" y2="246.9" stroke="#2f8a82" stroke-width="1.1"/>
<rect x="791.1" y="236.9" width="3" height="3.0" fill="#2e6fb4"/>
<line x1="796.5" x2="796.5" y1="227.7" y2="245.2" stroke="#2f8a82" stroke-width="1.1"/>
<rect x="795.0" y="232.7" width="3" height="4.2" fill="#2e6fb4"/>
<line x1="800.5" x2="800.5" y1="210.1" y2="238.5" stroke="#2f8a82" stroke-width="1.1"/>
<rect x="799.0" y="213.4" width="3" height="20.1" fill="#2e6fb4"/>
<line x1="804.5" x2="804.5" y1="183.7" y2="216.0" stroke="#2f8a82" stroke-width="1.1"/>
<rect x="803.0" y="185.0" width="3" height="31.0" fill="#2e6fb4"/>
<line x1="808.4" x2="808.4" y1="180.2" y2="192.7" stroke="#2f8a82" stroke-width="1.1"/>
<rect x="806.9" y="182.6" width="3" height="2.6" fill="#2e6fb4"/>
<line x1="812.4" x2="812.4" y1="174.5" y2="199.4" stroke="#c4505c" stroke-width="1.1"/>
<rect x="810.9" y="182.6" width="3" height="6.8" fill="#d2404f"/>
<line x1="816.4" x2="816.4" y1="157.7" y2="192.2" stroke="#2f8a82" stroke-width="1.1"/>
<rect x="814.9" y="166.1" width="3" height="21.9" fill="#2e6fb4"/>
<line x1="820.3" x2="820.3" y1="138.5" y2="168.6" stroke="#2f8a82" stroke-width="1.1"/>
<rect x="818.8" y="140.2" width="3" height="23.4" fill="#2e6fb4"/>
<line x1="824.3" x2="824.3" y1="135.2" y2="159.4" stroke="#c4505c" stroke-width="1.1"/>
<rect x="822.8" y="142.7" width="3" height="14.2" fill="#d2404f"/>
<line x1="828.3" x2="828.3" y1="141.9" y2="156.9" stroke="#2f8a82" stroke-width="1.1"/>
<rect x="826.8" y="149.4" width="3" height="5.8" fill="#2e6fb4"/>
<line x1="832.2" x2="832.2" y1="144.4" y2="166.1" stroke="#c4505c" stroke-width="1.1"/>
<rect x="830.7" y="147.7" width="3" height="17.6" fill="#d2404f"/>
<line x1="836.2" x2="836.2" y1="156.1" y2="173.6" stroke="#c4505c" stroke-width="1.1"/>
<rect x="834.7" y="162.8" width="3" height="5.8" fill="#d2404f"/>
<line x1="840.2" x2="840.2" y1="163.6" y2="182.8" stroke="#c4505c" stroke-width="1.1"/>
<rect x="838.7" y="169.4" width="3" height="12.6" fill="#d2404f"/>
<line x1="844.1" x2="844.1" y1="172.0" y2="197.3" stroke="#c4505c" stroke-width="1.1"/>
<rect x="842.6" y="178.6" width="3" height="17.0" fill="#d2404f"/>
<line x1="848.1" x2="848.1" y1="151.9" y2="202.3" stroke="#2f8a82" stroke-width="1.1"/>
<rect x="846.6" y="156.9" width="3" height="39.1" fill="#2e6fb4"/>
<line x1="852.1" x2="852.1" y1="156.9" y2="182.8" stroke="#c4505c" stroke-width="1.1"/>
<rect x="850.6" y="159.9" width="3" height="22.1" fill="#d2404f"/>
<line x1="856.0" x2="856.0" y1="168.6" y2="187.3" stroke="#2f8a82" stroke-width="1.1"/>
<rect x="854.5" y="173.6" width="3" height="5.9" fill="#2e6fb4"/>
<line x1="860.0" x2="860.0" y1="166.1" y2="194.3" stroke="#2f8a82" stroke-width="1.1"/>
<rect x="858.5" y="166.9" width="3" height="5.9" fill="#2e6fb4"/>
<line x1="864.0" x2="864.0" y1="156.1" y2="172.0" stroke="#2f8a82" stroke-width="1.1"/>
<rect x="862.5" y="162.3" width="3" height="5.5" fill="#2e6fb4"/>
<line x1="867.9" x2="867.9" y1="161.1" y2="182.8" stroke="#c4505c" stroke-width="1.1"/>
<rect x="866.4" y="162.3" width="3" height="2.6" fill="#d2404f"/>
<line x1="871.9" x2="871.9" y1="150.2" y2="167.8" stroke="#2f8a82" stroke-width="1.1"/>
<rect x="870.4" y="151.1" width="3" height="16.2" fill="#2e6fb4"/>
<line x1="875.9" x2="875.9" y1="150.2" y2="219.3" stroke="#c4505c" stroke-width="1.1"/>
<rect x="874.4" y="151.1" width="3" height="49.1" fill="#d2404f"/>
<line x1="879.8" x2="879.8" y1="179.5" y2="221.0" stroke="#2f8a82" stroke-width="1.1"/>
<rect x="878.3" y="183.9" width="3" height="18.7" fill="#2e6fb4"/>
<line x1="883.8" x2="883.8" y1="185.3" y2="192.9" stroke="#c4505c" stroke-width="1.1"/>
<rect x="882.3" y="185.8" width="3" height="1.5" fill="#d2404f"/>
<line x1="887.8" x2="887.8" y1="148.5" y2="189.5" stroke="#2f8a82" stroke-width="1.1"/>
<rect x="886.3" y="164.4" width="3" height="24.2" fill="#2e6fb4"/>
<line x1="891.7" x2="891.7" y1="147.7" y2="171.1" stroke="#2f8a82" stroke-width="1.1"/>
<rect x="890.2" y="151.9" width="3" height="13.4" fill="#2e6fb4"/>
<line x1="895.7" x2="895.7" y1="136.0" y2="159.4" stroke="#c4505c" stroke-width="1.1"/>
<rect x="894.2" y="150.6" width="3" height="7.1" fill="#d2404f"/>
<line x1="899.7" x2="899.7" y1="145.2" y2="161.9" stroke="#2f8a82" stroke-width="1.1"/>
<rect x="898.2" y="156.6" width="3" height="1.6" fill="#2e6fb4"/>
<line x1="903.6" x2="903.6" y1="138.5" y2="167.8" stroke="#2f8a82" stroke-width="1.1"/>
<rect x="902.1" y="141.0" width="3" height="14.2" fill="#2e6fb4"/>
<line x1="907.6" x2="907.6" y1="140.2" y2="157.7" stroke="#c4505c" stroke-width="1.1"/>
<rect x="906.1" y="141.9" width="3" height="5.0" fill="#d2404f"/>
<line x1="911.6" x2="911.6" y1="126.8" y2="149.4" stroke="#2f8a82" stroke-width="1.1"/>
<rect x="910.1" y="133.8" width="3" height="14.4" fill="#2e6fb4"/>
<line x1="915.5" x2="915.5" y1="109.7" y2="134.3" stroke="#2f8a82" stroke-width="1.1"/>
<rect x="914.0" y="118.4" width="3" height="15.9" fill="#2e6fb4"/>
<line x1="919.5" x2="919.5" y1="91.7" y2="126.0" stroke="#c4505c" stroke-width="1.1"/>
<rect x="918.0" y="115.9" width="3" height="10.1" fill="#d2404f"/>
<line x1="923.5" x2="923.5" y1="113.4" y2="154.4" stroke="#c4505c" stroke-width="1.1"/>
<rect x="922.0" y="125.1" width="3" height="23.4" fill="#d2404f"/>
<line x1="927.4" x2="927.4" y1="146.9" y2="177.8" stroke="#c4505c" stroke-width="1.1"/>
<rect x="925.9" y="148.2" width="3" height="27.9" fill="#d2404f"/>
<line x1="931.4" x2="931.4" y1="160.2" y2="181.1" stroke="#2f8a82" stroke-width="1.1"/>
<rect x="929.9" y="161.9" width="3" height="11.7" fill="#2e6fb4"/>
<line x1="935.4" x2="935.4" y1="154.4" y2="170.3" stroke="#2f8a82" stroke-width="1.1"/>
<rect x="933.9" y="157.7" width="3" height="5.6" fill="#2e6fb4"/>
<line x1="939.3" x2="939.3" y1="156.9" y2="190.2" stroke="#c4505c" stroke-width="1.1"/>
<rect x="937.8" y="157.7" width="3" height="25.8" fill="#d2404f"/>
<line x1="943.3" x2="943.3" y1="177.8" y2="224.3" stroke="#c4505c" stroke-width="1.1"/>
<rect x="941.8" y="183.1" width="3" height="34.5" fill="#d2404f"/>
<line x1="947.3" x2="947.3" y1="194.5" y2="222.6" stroke="#2f8a82" stroke-width="1.1"/>
<rect x="945.8" y="199.2" width="3" height="19.3" fill="#2e6fb4"/>
<line x1="951.2" x2="951.2" y1="181.4" y2="199.2" stroke="#2f8a82" stroke-width="1.1"/>
<rect x="949.7" y="189.3" width="3" height="9.2" fill="#2e6fb4"/>
<line x1="955.2" x2="955.2" y1="177.0" y2="191.2" stroke="#2f8a82" stroke-width="1.1"/>
<rect x="953.7" y="185.0" width="3" height="4.3" fill="#2e6fb4"/>
<line x1="959.2" x2="959.2" y1="157.2" y2="187.8" stroke="#2f8a82" stroke-width="1.1"/>
<rect x="957.7" y="173.6" width="3" height="11.7" fill="#2e6fb4"/>
<line x1="963.1" x2="963.1" y1="163.1" y2="198.6" stroke="#c4505c" stroke-width="1.1"/>
<rect x="961.6" y="173.5" width="3" height="13.4" fill="#d2404f"/>
<line x1="967.1" x2="967.1" y1="170.3" y2="189.4" stroke="#2f8a82" stroke-width="1.1"/>
<rect x="965.6" y="172.3" width="3" height="13.8" fill="#2e6fb4"/>
<line x1="971.1" x2="971.1" y1="170.2" y2="191.9" stroke="#2f8a82" stroke-width="1.1"/>
<rect x="969.6" y="171.3" width="3" height="14.8" fill="#2e6fb4"/>
<line x1="975.0" x2="975.0" y1="171.2" y2="201.5" stroke="#c4505c" stroke-width="1.1"/>
<rect x="973.5" y="171.3" width="3" height="19.8" fill="#d2404f"/>
<line x1="979.0" x2="979.0" y1="187.5" y2="207.7" stroke="#c4505c" stroke-width="1.1"/>
<rect x="977.5" y="189.4" width="3" height="9.2" fill="#d2404f"/>
<line x1="983.0" x2="983.0" y1="193.5" y2="239.5" stroke="#c4505c" stroke-width="1.1"/>
<rect x="981.5" y="196.0" width="3" height="35.1" fill="#d2404f"/>
<line x1="986.9" x2="986.9" y1="209.4" y2="245.4" stroke="#2f8a82" stroke-width="1.1"/>
<rect x="985.4" y="212.7" width="3" height="20.1" fill="#2e6fb4"/>
<line x1="990.9" x2="990.9" y1="211.9" y2="227.0" stroke="#c4505c" stroke-width="1.1"/>
<rect x="989.4" y="216.1" width="3" height="5.8" fill="#d2404f"/>
<line x1="994.9" x2="994.9" y1="216.1" y2="248.7" stroke="#c4505c" stroke-width="1.1"/>
<rect x="993.4" y="222.8" width="3" height="2.8" fill="#d2404f"/>
<line x1="998.9" x2="998.9" y1="196.9" y2="227.0" stroke="#2f8a82" stroke-width="1.1"/>
<rect x="997.4" y="198.5" width="3" height="27.6" fill="#2e6fb4"/>
<line x1="1002.8" x2="1002.8" y1="181.8" y2="201.9" stroke="#2f8a82" stroke-width="1.1"/>
<rect x="1001.3" y="187.7" width="3" height="12.0" fill="#2e6fb4"/>
<line x1="1006.8" x2="1006.8" y1="176.0" y2="201.9" stroke="#c4505c" stroke-width="1.1"/>
<rect x="1005.3" y="187.7" width="3" height="4.0" fill="#d2404f"/>
<line x1="1010.8" x2="1010.8" y1="185.2" y2="199.4" stroke="#c4505c" stroke-width="1.1"/>
<rect x="1009.3" y="188.5" width="3" height="9.2" fill="#d2404f"/>
<line x1="1014.7" x2="1014.7" y1="196.0" y2="211.9" stroke="#c4505c" stroke-width="1.1"/>
<rect x="1013.2" y="196.9" width="3" height="13.3" fill="#d2404f"/>
<line x1="1018.7" x2="1018.7" y1="204.4" y2="230.3" stroke="#c4505c" stroke-width="1.1"/>
<rect x="1017.2" y="209.4" width="3" height="5.0" fill="#d2404f"/>
<line x1="1022.7" x2="1022.7" y1="212.7" y2="228.6" stroke="#c4505c" stroke-width="1.1"/>
<rect x="1021.2" y="214.4" width="3" height="9.2" fill="#d2404f"/>
<line x1="1026.6" x2="1026.6" y1="209.4" y2="237.0" stroke="#c4505c" stroke-width="1.1"/>
<rect x="1025.1" y="224.4" width="3" height="4.2" fill="#d2404f"/>
<line x1="1030.6" x2="1030.6" y1="215.3" y2="228.6" stroke="#2f8a82" stroke-width="1.1"/>
<rect x="1029.1" y="221.1" width="3" height="2.5" fill="#2e6fb4"/>
<line x1="1034.6" x2="1034.6" y1="210.2" y2="248.5" stroke="#c4505c" stroke-width="1.1"/>
<rect x="1033.1" y="221.1" width="3" height="20.3" fill="#d2404f"/>
<line x1="1038.5" x2="1038.5" y1="239.2" y2="285.2" stroke="#c4505c" stroke-width="1.1"/>
<rect x="1037.0" y="241.0" width="3" height="27.1" fill="#d2404f"/>
<line x1="1042.5" x2="1042.5" y1="259.3" y2="293.2" stroke="#c4505c" stroke-width="1.1"/>
<rect x="1041.0" y="268.1" width="3" height="14.1" fill="#d2404f"/>
<line x1="1046.5" x2="1046.5" y1="277.7" y2="299.4" stroke="#2f8a82" stroke-width="1.1"/>
<rect x="1045.0" y="282.2" width="3" height="1.3" fill="#2e6fb4"/>
<line x1="1050.4" x2="1050.4" y1="278.5" y2="296.0" stroke="#2f8a82" stroke-width="1.1"/>
<rect x="1048.9" y="286.0" width="3" height="2.5" fill="#2e6fb4"/>
<line x1="1054.4" x2="1054.4" y1="284.3" y2="327.8" stroke="#c4505c" stroke-width="1.1"/>
<rect x="1052.9" y="284.8" width="3" height="40.5" fill="#d2404f"/>
<line x1="1058.4" x2="1058.4" y1="313.6" y2="328.7" stroke="#2f8a82" stroke-width="1.1"/>
<rect x="1056.9" y="314.9" width="3" height="11.3" fill="#2e6fb4"/>
<line x1="1062.3" x2="1062.3" y1="284.3" y2="316.1" stroke="#2f8a82" stroke-width="1.1"/>
<rect x="1060.8" y="286.0" width="3" height="30.1" fill="#2e6fb4"/>
<line x1="1066.3" x2="1066.3" y1="274.3" y2="300.2" stroke="#2f8a82" stroke-width="1.1"/>
<rect x="1064.8" y="278.2" width="3" height="10.3" fill="#2e6fb4"/>
<line x1="1070.3" x2="1070.3" y1="268.5" y2="285.2" stroke="#2f8a82" stroke-width="1.1"/>
<rect x="1068.8" y="274.3" width="3" height="5.0" fill="#2e6fb4"/>
<line x1="1074.2" x2="1074.2" y1="271.8" y2="293.2" stroke="#c4505c" stroke-width="1.1"/>
<rect x="1072.7" y="274.3" width="3" height="7.5" fill="#d2404f"/>
<line x1="1078.2" x2="1078.2" y1="279.3" y2="303.6" stroke="#c4505c" stroke-width="1.1"/>
<rect x="1076.7" y="280.2" width="3" height="7.5" fill="#d2404f"/>
<line x1="1082.2" x2="1082.2" y1="260.1" y2="297.7" stroke="#2f8a82" stroke-width="1.1"/>
<rect x="1080.7" y="268.8" width="3" height="18.9" fill="#2e6fb4"/>
<line x1="1086.1" x2="1086.1" y1="265.1" y2="295.6" stroke="#c4505c" stroke-width="1.1"/>
<rect x="1084.6" y="266.8" width="3" height="7.0" fill="#d2404f"/>
<line x1="1090.1" x2="1090.1" y1="268.1" y2="286.9" stroke="#c4505c" stroke-width="1.1"/>
<rect x="1088.6" y="278.2" width="3" height="2.0" fill="#d2404f"/>
<line x1="1094.1" x2="1094.1" y1="273.5" y2="287.7" stroke="#c4505c" stroke-width="1.1"/>
<rect x="1092.6" y="279.3" width="3" height="4.2" fill="#d2404f"/>
<line x1="1098.0" x2="1098.0" y1="281.8" y2="317.0" stroke="#c4505c" stroke-width="1.1"/>
<rect x="1096.5" y="282.2" width="3" height="30.1" fill="#d2404f"/>
<line x1="1102.0" x2="1102.0" y1="291.0" y2="318.6" stroke="#2f8a82" stroke-width="1.1"/>
<rect x="1100.5" y="307.8" width="3" height="4.5" fill="#2e6fb4"/>
<line x1="1106.0" x2="1106.0" y1="296.0" y2="318.6" stroke="#2f8a82" stroke-width="1.1"/>
<rect x="1104.5" y="298.9" width="3" height="8.9" fill="#2e6fb4"/>
<line x1="1109.9" x2="1109.9" y1="292.7" y2="304.4" stroke="#2f8a82" stroke-width="1.1"/>
<rect x="1108.4" y="296.6" width="3" height="1.2" fill="#2e6fb4"/>
<line x1="1113.9" x2="1113.9" y1="261.8" y2="299.4" stroke="#2f8a82" stroke-width="1.1"/>
<rect x="1112.4" y="277.2" width="3" height="18.8" fill="#2e6fb4"/>
<line x1="1117.9" x2="1117.9" y1="250.9" y2="290.2" stroke="#2f8a82" stroke-width="1.1"/>
<rect x="1116.4" y="251.4" width="3" height="23.8" fill="#2e6fb4"/>
<line x1="1121.8" x2="1121.8" y1="243.0" y2="261.8" stroke="#c4505c" stroke-width="1.1"/>
<rect x="1120.3" y="251.7" width="3" height="1.4" fill="#d2404f"/>
<line x1="1125.8" x2="1125.8" y1="247.6" y2="265.1" stroke="#c4505c" stroke-width="1.1"/>
<rect x="1124.3" y="252.6" width="3" height="2.5" fill="#d2404f"/>
<line x1="1129.8" x2="1129.8" y1="240.9" y2="263.4" stroke="#c4505c" stroke-width="1.1"/>
<rect x="1128.3" y="256.8" width="3" height="5.8" fill="#d2404f"/>
<line x1="1133.7" x2="1133.7" y1="258.4" y2="271.5" stroke="#c4505c" stroke-width="1.1"/>
<rect x="1132.2" y="259.3" width="3" height="2.1" fill="#d2404f"/>
<line x1="1137.7" x2="1137.7" y1="215.3" y2="263.4" stroke="#2f8a82" stroke-width="1.1"/>
<rect x="1136.2" y="215.3" width="3" height="48.1" fill="#2e6fb4"/>
<line x1="1141.7" x2="1141.7" y1="204.4" y2="225.3" stroke="#c4505c" stroke-width="1.1"/>
<rect x="1140.2" y="215.3" width="3" height="8.3" fill="#d2404f"/>
<line x1="1145.6" x2="1145.6" y1="211.9" y2="227.8" stroke="#2f8a82" stroke-width="1.1"/>
<rect x="1144.1" y="222.0" width="3" height="1.6" fill="#2e6fb4"/>
<line x1="1149.6" x2="1149.6" y1="217.5" y2="231.0" stroke="#2f8a82" stroke-width="1.1"/>
<rect x="1148.1" y="223.6" width="3" height="1.2" fill="#2e6fb4"/>
<text x="1306.4" y="38.7" font-size="13.1" fill="#1e222d">1.39000</text>
<text x="1306.4" y="71.8" font-size="13.1" fill="#1e222d">1.38000</text>
<text x="1306.4" y="104.9" font-size="13.1" fill="#1e222d">1.37000</text>
<text x="1306.4" y="138.0" font-size="13.1" fill="#1e222d">1.36000</text>
<text x="1306.4" y="171.1" font-size="13.1" fill="#1e222d">1.35000</text>
<text x="1306.4" y="204.2" font-size="13.1" fill="#1e222d">1.34000</text>
<text x="1306.4" y="237.2" font-size="13.1" fill="#1e222d">1.33000</text>
<text x="1306.4" y="270.3" font-size="13.1" fill="#1e222d">1.32000</text>
<text x="1306.4" y="303.4" font-size="13.1" fill="#1e222d">1.31000</text>
<text x="1306.4" y="336.5" font-size="13.1" fill="#1e222d">1.30000</text>
<text x="1306.4" y="369.6" font-size="13.1" fill="#1e222d">1.29000</text>
<text x="1306.4" y="402.7" font-size="13.1" fill="#1e222d">1.28000</text>
<text x="1306.4" y="435.8" font-size="13.1" fill="#1e222d">1.27000</text>
<text x="1306.4" y="468.9" font-size="13.1" fill="#1e222d">1.26000</text>
<text x="1306.4" y="502.0" font-size="13.1" fill="#1e222d">1.25000</text>
<text x="1306.4" y="535.1" font-size="13.1" fill="#1e222d">1.24000</text>
<text x="1306.4" y="568.1" font-size="13.1" fill="#1e222d">1.23000</text>
<text x="1306.4" y="601.2" font-size="13.1" fill="#1e222d">1.22000</text>
<text x="1306.4" y="634.3" font-size="13.1" fill="#1e222d">1.21000</text>
<text x="1306.4" y="667.4" font-size="13.1" fill="#1e222d">1.20000</text>
<rect x="1298" y="275" width="61" height="16.5" rx="2" fill="#f8bf35"/>
<text x="1306.4" y="287.6" font-size="13.1" fill="#1e222d">1.31463</text>
<rect x="1298" y="320.5" width="61" height="17" rx="2" fill="#1f9a84"/>
<text x="1306.4" y="333.5" font-size="13.1" fill="#ffffff">1.30091</text>
<text x="22.5" y="703" text-anchor="middle" font-size="12.3" fill="#1e222d">Nov</text>
<text x="106.0" y="703" text-anchor="middle" font-size="12.3" fill="#1e222d">Dec</text>
<text x="174.1" y="703" font-size="12.6" font-weight="700" fill="#1e222d" textLength="31.5" lengthAdjust="spacingAndGlyphs">2025</text>
<text x="276.8" y="703" text-anchor="middle" font-size="12.3" fill="#1e222d">Feb</text>
<text x="356.0" y="703" text-anchor="middle" font-size="12.3" fill="#1e222d">Mar</text>
<text x="439.5" y="703" text-anchor="middle" font-size="12.3" fill="#1e222d">Apr</text>
<text x="526.8" y="703" text-anchor="middle" font-size="12.3" fill="#1e222d">May</text>
<text x="614.0" y="703" text-anchor="middle" font-size="12.3" fill="#1e222d">Jun</text>
<text x="698.0" y="703" text-anchor="middle" font-size="12.3" fill="#1e222d">Jul</text>
<text x="788.8" y="703" text-anchor="middle" font-size="12.3" fill="#1e222d">Aug</text>
<text x="872.0" y="703" text-anchor="middle" font-size="12.3" fill="#1e222d">Sep</text>
<text x="959.5" y="703" text-anchor="middle" font-size="12.3" fill="#1e222d">Oct</text>
<text x="1050.8" y="703" text-anchor="middle" font-size="12.3" fill="#1e222d">Nov</text>
<text x="1130.0" y="703" text-anchor="middle" font-size="12.3" fill="#1e222d">Dec</text>
<text x="1205.2" y="703" font-size="12.6" font-weight="700" fill="#1e222d" textLength="31.5" lengthAdjust="spacingAndGlyphs">2026</text>
<g transform="translate(12.9,662.9) scale(0.634,0.67)" fill="#111"><path d="M14 17H7V6H0V0h14v17z"/><circle cx="20" cy="3" r="3"/><path d="M28 17h-8l7.5-17H36L28 17z"/></g>
<g transform="translate(1330,698.5)" fill="none" stroke="#2a2e39" stroke-width="1.1"><path d="M-5.2,0 L-2.6,-4.6 L2.6,-4.6 L5.2,0 L2.6,4.6 L-2.6,4.6 Z"/><circle r="1.6"/></g>
<text x="27.6" y="19.6" font-size="12.2" fill="#131722" textLength="219.2" lengthAdjust="spacingAndGlyphs">British Pound / U.S. Dollar · 1D · OANDA</text>
<text x="274.1" y="18.9" font-size="10.2" fill="#131722">O</text>
<text x="281.8" y="18.9" font-size="10.9" fill="#1f9a84" textLength="39.8" lengthAdjust="spacingAndGlyphs">1.33268</text>
<text x="327.1" y="18.9" font-size="10.2" fill="#131722">H</text>
<text x="335.8" y="18.9" font-size="10.9" fill="#1f9a84" textLength="39.3" lengthAdjust="spacingAndGlyphs">1.33466</text>
<text x="380.3" y="18.9" font-size="10.2" fill="#131722">L</text>
<text x="386.8" y="18.9" font-size="10.9" fill="#1f9a84" textLength="39.1" lengthAdjust="spacingAndGlyphs">1.33058</text>
<text x="431.4" y="18.9" font-size="10.2" fill="#131722">C</text>
<text x="440.3" y="18.9" font-size="10.9" fill="#1f9a84" textLength="38.6" lengthAdjust="spacingAndGlyphs">1.33280</text>
<text x="485.1" y="18.9" font-size="10.2" fill="#131722" textLength="13.7" lengthAdjust="spacingAndGlyphs">Vol</text>
<text x="500.1" y="18.9" font-size="10.9" fill="#1f9a84" textLength="33.5" lengthAdjust="spacingAndGlyphs">156.63</text>
<text x="535.0" y="18.9" font-size="10.9" fill="#1f9a84">K</text>
<text x="10.5" y="37.7" font-size="10.4" fill="#131722" textLength="63.7" lengthAdjust="spacingAndGlyphs">EMA 50 close</text>
<text x="81.7" y="37.7" font-size="10.9" fill="#3f74d8" textLength="39.1" lengthAdjust="spacingAndGlyphs">1.32669</text>
<text x="10.5" y="55.8" font-size="10.4" fill="#131722" textLength="69.9" lengthAdjust="spacingAndGlyphs">EMA 100 close</text>
<text x="87.9" y="55.8" font-size="10.9" fill="#a94bc9" textLength="39.1" lengthAdjust="spacingAndGlyphs">1.33080</text>
<text x="10.5" y="74.6" font-size="10.4" fill="#131722" textLength="76.7" lengthAdjust="spacingAndGlyphs">Supertrend 10 3</text>
<text x="94.4" y="74.6" font-size="10.9" fill="#4caf50" textLength="38.9" lengthAdjust="spacingAndGlyphs">1.31139</text>
<text x="138.8" y="74.6" font-size="8.8" fill="#333">&#8709;</text>
<circle cx="260.7" cy="15.4" r="5.8" fill="#d3eee8"/><circle cx="260.7" cy="15.4" r="3.1" fill="#1f9a84"/>
<rect x="10.6" y="83.2" width="21" height="14.6" rx="2.5" fill="#fff" stroke="#e2e2e2" stroke-width="1"/><path d="M18.6 91.8 L21.1 89.3 L23.6 91.8" fill="none" stroke="#222" stroke-width="1.3"/>
<g><g transform="translate(0,0.8) translate(20.5,11.6) scale(0.97) translate(-20.5,-11.6)"><circle cx="20.5" cy="11.6" r="4.5" fill="#ee9fb0"/><path d="M16 11.6 A4.5 4.5 0 0 1 22.2 7.45 L20.6 11.9 Z" fill="#3f90c4"/><path d="M20.6 11.9 L22.2 7.45 A4.5 4.5 0 0 1 24.9 12.6 Z" fill="#d6547a"/><path d="M20.3 12.2 H24.95 A4.5 4.5 0 0 1 23.6 14.9 H20.3 Z" fill="#b2406c"/><path d="M21 10.2h3.6M20.8 13.4h3.9" stroke="#f6cdd6" stroke-width="0.5"/></g><circle cx="15.3" cy="17.5" r="5.2" fill="#fff"/><circle cx="15.3" cy="17.5" r="4.5" fill="#f3b3bf"/><path d="M12.2 14.4 L18.4 20.6 M18.4 14.4 L12.2 20.6" stroke="#e8607a" stroke-width="0.7"/><circle cx="13.4" cy="14.3" r="1.05" fill="#4b3c6e"/><circle cx="17.2" cy="14.3" r="1.05" fill="#4b3c6e"/><circle cx="13.4" cy="20.7" r="1.05" fill="#4b3c6e"/><circle cx="17.2" cy="20.7" r="1.05" fill="#4b3c6e"/><path d="M15.3 13 V22 M10.8 17.5 H19.8" stroke="#fbe3e8" stroke-width="2.1"/><path d="M15.3 13 V22 M10.8 17.5 H19.8" stroke="#e0405a" stroke-width="1"/></g>
<rect x="1300.6" y="6.6" width="58.8" height="18" rx="3.5" fill="#fff" stroke="#efefef"/>
<text x="1303.9" y="18.9" font-size="8.4" fill="#131722" textLength="18.3" lengthAdjust="spacingAndGlyphs">USD</text>
<path d="M1352.1 14.7 L1354.1 16.7 L1356.1 14.7" fill="none" stroke="#222" stroke-width="1.3"/>
</svg>
<div id="frame-top"></div><div id="frame-left"></div><div id="frame-right"></div>
</body></html>
